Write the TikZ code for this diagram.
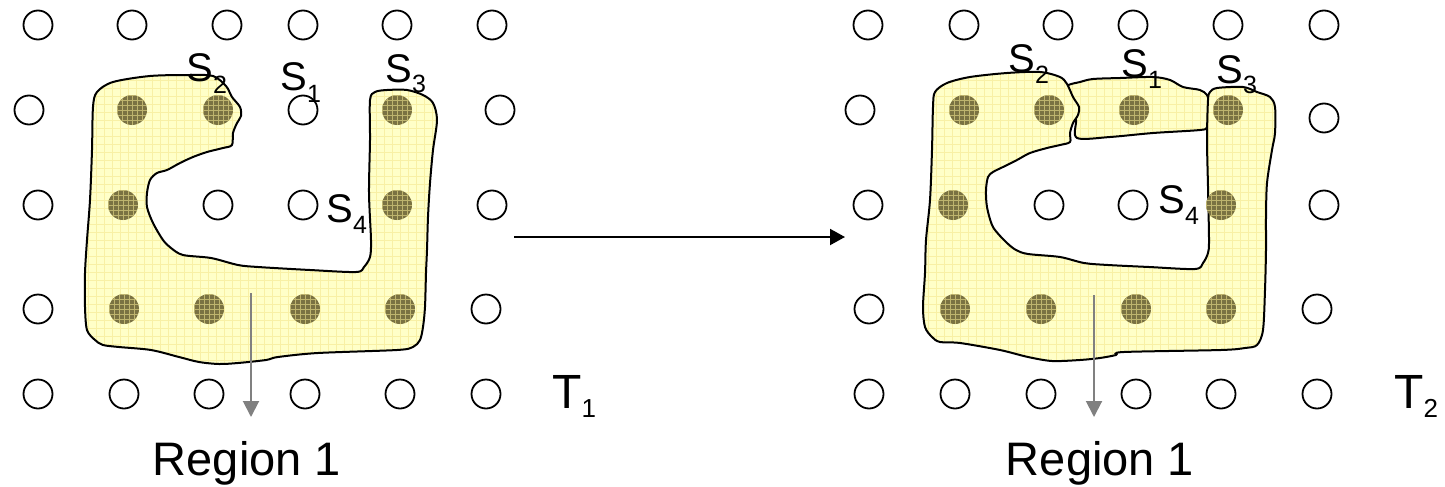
\documentclass[tikz,border=0pt]{standalone}
\usepackage{fontspec}
\setmainfont{Liberation Sans}
\usetikzlibrary{arrows.meta}
\definecolor{yfill}{RGB}{255,255,200}
\definecolor{ygrid}{RGB}{248,240,165}
\definecolor{dotc}{RGB}{122,114,66}
\definecolor{dotg}{RGB}{190,180,110}
\definecolor{garr}{RGB}{128,128,128}
\newcommand\subl[3]{\fontsize{20}{20}\selectfont #1\raisebox{-#3}{\fontsize{12.5}{12.5}\selectfont #2}}
\newcommand\leftblob{plot[smooth cycle, tension=0.5] coordinates {(97,92) (113,82) (150,76) (190,75) (213,76) (226,86) (232,97) (240,107) (241,116) (237,123) (233,133) (232,145) (223,148) (207,152) (193,157) (180,163) (167,170) (157,173) (150,180) (147,193) (147,207) (153,223) (163,240) (171,248) (183,255) (211,258) (238,265) (258,267) (310,270) (356,272) (364,267) (370,257) (371,240) (369,193) (370,140) (370,100) (375,92) (387,90) (407,90) (423,95) (433,103) (437,120) (433,150) (430,183) (428,217) (427,250) (426,273) (425,307) (423,327) (420,340) (413,347) (397,350) (318,353) (278,357) (266,360) (238,363) (219,364) (199,362) (179,357) (151,350) (119,347) (103,345) (95,340) (87,330) (85,307) (85,273) (87,240) (90,200) (92,150) (93,107)}}
\newcommand\rightblob{plot[smooth cycle, tension=0.5] coordinates {(935,92) (947,83) (970,77) (1007,73) (1040,72) (1060,77) (1067,84) (1073,97) (1079,107) (1078,115) (1073,123) (1070,133) (1070,142) (1060,145) (1047,148) (1030,153) (1017,160) (1003,167) (993,172) (988,177) (986,190) (987,207) (993,227) (1006,242) (1016,250) (1028,254) (1060,257) (1084,263) (1108,265) (1149,267) (1195,269) (1203,263) (1208,253) (1209,240) (1208,187) (1207,140) (1208,100) (1210,92) (1217,88) (1243,87) (1257,92) (1270,97) (1275,107) (1275,133) (1272,150) (1267,183) (1266,217) (1266,250) (1265,290) (1263,330) (1257,345) (1245,348) (1221,350) (1124,352) (1116,355) (1100,358) (1080,360) (1052,361) (1028,357) (1000,350) (960,343) (940,342) (932,337) (925,327) (923,307) (925,273) (926,240) (930,200) (932,150) (933,107)}}
\newcommand\midblob{plot[smooth cycle, tension=0.5] coordinates {(1067,86) (1080,82) (1093,79) (1120,78) (1153,77) (1170,80) (1183,87) (1200,90) (1207,95) (1209,103) (1208,115) (1207,127) (1200,130) (1153,133) (1110,137) (1077,138) (1076,120) (1072,107) (1068,97)}}
\begin{document}
\begin{tikzpicture}[x=0.5pt,y=-0.5pt,
  outline/.style={draw=black, line width=1pt},
  odot/.style={circle, draw=black, line width=0.9pt, minimum size=14.5pt, inner sep=0pt},
  fdot/.style={circle, fill=dotc, minimum size=15pt, inner sep=0pt,
    path picture={\draw[dotg, line width=0.35pt] (path picture bounding box.south west) grid[step=2.5pt] (path picture bounding box.north east);}},
  lbl/.style={inner sep=0pt, anchor=base west},
  reg/.style={inner sep=0pt, anchor=base, font=\fontsize{23.5}{23.5}\selectfont},
  garrow/.style={draw=garr, line width=1pt, -{Triangle[length=8pt,width=8pt]}},
  barrow/.style={draw=black, line width=1pt, -{Triangle[length=7.5pt,width=8pt]}}]
\useasboundingbox (0,0) rectangle (1445,487);
% fills with grid pattern
\begin{scope}
  \clip \leftblob;
  \fill[yfill] (0,0) rectangle (1445,487);
  \draw[ygrid, line width=0.35pt] (0,0) grid[step=4pt] (1445,487);
\end{scope}
\draw[outline] \leftblob;
\begin{scope}
  \clip \midblob;
  \fill[yfill] (0,0) rectangle (1445,487);
  \draw[ygrid, line width=0.35pt] (0,0) grid[step=4pt] (1445,487);
\end{scope}
\draw[outline] \midblob;
\begin{scope}
  \clip \rightblob;
  \fill[yfill] (0,0) rectangle (1445,487);
  \draw[ygrid, line width=0.35pt] (0,0) grid[step=4pt] (1445,487);
\end{scope}
\draw[outline] \rightblob;
% left grid of dots
\node[odot] (a11) at (38,25) {};
\node[odot] (a12) at (132,25) {};
\node[odot] (a13) at (227,25) {};
\node[odot] (a14) at (303,25) {};
\node[odot] (a15) at (397,25) {};
\node[odot] (a16) at (492,25) {};
\node[odot] (a21) at (29,110) {};
\node[fdot] (a22) at (132,110) {};
\node[fdot] (a23) at (218,110) {};
\node[odot] (a24) at (303,110) {};
\node[fdot] (a25) at (397,110) {};
\node[odot] (a26) at (500,110) {};
\node[odot] (a31) at (38,205) {};
\node[fdot] (a32) at (123,205) {};
\node[odot] (a33) at (218,205) {};
\node[odot] (a34) at (303,205) {};
\node[fdot] (a35) at (397,205) {};
\node[odot] (a36) at (492,205) {};
\node[odot] (a41) at (38,309) {};
\node[fdot] (a42) at (124,309) {};
\node[fdot] (a43) at (209,309) {};
\node[fdot] (a44) at (305,309) {};
\node[fdot] (a45) at (400,309) {};
\node[odot] (a46) at (486,309) {};
\node[odot] (a51) at (38,394) {};
\node[odot] (a52) at (124,394) {};
\node[odot] (a53) at (209,394) {};
\node[odot] (a54) at (305,394) {};
\node[odot] (a55) at (400,394) {};
\node[odot] (a56) at (486,394) {};
% right grid of dots
\node[odot] (b11) at (868,25) {};
\node[odot] (b12) at (964,25) {};
\node[odot] (b13) at (1058,25) {};
\node[odot] (b14) at (1133,25) {};
\node[odot] (b15) at (1228,25) {};
\node[odot] (b16) at (1324,25) {};
\node[odot] (b21) at (860,110) {};
\node[fdot] (b22) at (964,110) {};
\node[fdot] (b23) at (1049,110) {};
\node[fdot] (b24) at (1134,110) {};
\node[fdot] (b25) at (1228,110) {};
\node[odot] (b26) at (1324,118) {};
\node[odot] (b31) at (868,205) {};
\node[fdot] (b32) at (953,205) {};
\node[odot] (b33) at (1049,205) {};
\node[odot] (b34) at (1133,205) {};
\node[fdot] (b35) at (1221,205) {};
\node[odot] (b36) at (1324,205) {};
\node[odot] (b41) at (869,309) {};
\node[fdot] (b42) at (955,309) {};
\node[fdot] (b43) at (1041,309) {};
\node[fdot] (b44) at (1136,309) {};
\node[fdot] (b45) at (1221,309) {};
\node[odot] (b46) at (1317,309) {};
\node[odot] (b51) at (869,394) {};
\node[odot] (b52) at (955,394) {};
\node[odot] (b53) at (1041,394) {};
\node[odot] (b54) at (1136,394) {};
\node[odot] (b55) at (1221,394) {};
\node[odot] (b56) at (1317,394) {};
% labels left
\node[lbl] (ls2) at (186,81) {\subl{S}{2}{6pt}};
\node[lbl] (ls1) at (280,90) {\subl{S}{1}{6pt}};
\node[lbl] (ls3) at (385,82) {\subl{S}{3}{5.5pt}};
\node[lbl] (ls4) at (326,222) {\subl{S}{4}{5.5pt}};
\node[lbl] (lt) at (552,408) {\fontsize{24}{24}\selectfont T\raisebox{-4.5pt}{\fontsize{13}{13}\selectfont 1}};
\node[reg] (lreg) at (247,475) {Region 1};
% labels right
\node[lbl] (rs2) at (1008,72) {\subl{S}{2}{5.5pt}};
\node[lbl] (rs1) at (1121,77) {\subl{S}{1}{5.5pt}};
\node[lbl] (rs3) at (1216,83) {\subl{S}{3}{5.5pt}};
\node[lbl] (rs4) at (1158,213) {\subl{S}{4}{5.5pt}};
\node[lbl] (rt) at (1394,408) {\fontsize{24}{24}\selectfont T\raisebox{-4.5pt}{\fontsize{13}{13}\selectfont 2}};
\node[reg] (rreg) at (1100,475) {Region 1};
% arrows
\coordinate (lgs) at (251,293);
\coordinate (lge) at (251,417);
\coordinate (rgs) at (1094,295);
\coordinate (rge) at (1094,417);
\draw[garrow] (lgs) -- (lge);
\draw[garrow] (rgs) -- (rge);
\coordinate (ms) at (514,237);
\coordinate (me) at (845,237);
\draw[barrow] (ms) -- (me);
\end{tikzpicture}
\end{document}
